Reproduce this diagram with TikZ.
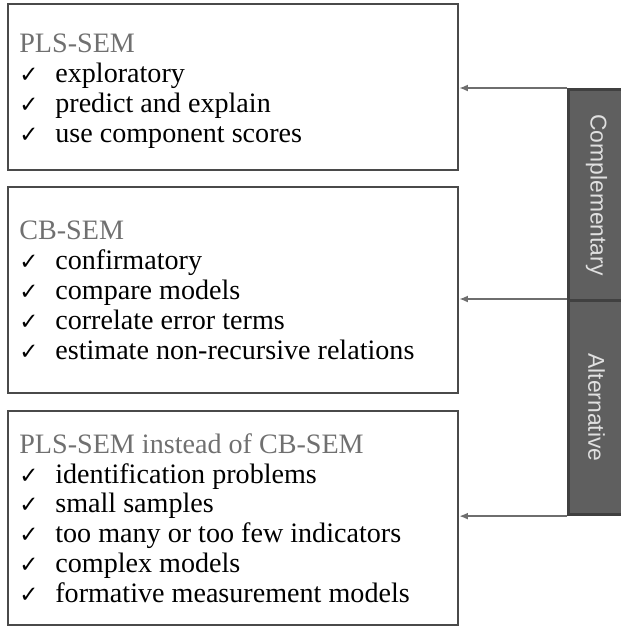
\documentclass[tikz,border=0pt]{standalone}
\usepackage{fontspec}
\setmainfont{Liberation Serif}
\setsansfont{Liberation Sans}
\newfontfamily\symfont{DejaVu Sans}
\usetikzlibrary{arrows.meta}

\definecolor{boxline}{HTML}{4A4A4A}
\definecolor{titlegray}{HTML}{707070}
\definecolor{barfill}{HTML}{5F5F5F}
\definecolor{barline}{HTML}{404040}
\definecolor{arrowgray}{HTML}{6E6E6E}

\newcommand{\tick}{\makebox[0.72cm][l]{{\symfont\fontsize{13}{13}\selectfont ✓}}}

\tikzset{
  listbox/.style={draw=boxline, line width=1.3pt, anchor=north west,
    minimum width=9cm, inner sep=0pt},
  listtext/.style={anchor=north west, align=left, inner sep=0pt,
    font=\fontsize{16}{17}\selectfont},
  sidebar/.style={draw=barline, fill=barfill, line width=1.8pt, anchor=north west,
    minimum width=1.4cm, inner sep=0pt},
  barlabel/.style={rotate=-90, text=white!88!black, font=\sffamily\fontsize{13}{13}\selectfont},
  link/.style={draw=arrowgray, line width=1pt, -{Latex[length=5pt,width=4pt]}}
}

\begin{document}
\begin{tikzpicture}[x=0.02cm,y=-0.02cm]
      \useasboundingbox (0,0) rectangle (621,626);

      % boxes
      \node [listbox, minimum height=3.32cm] (pls) at (7,3) {};
      \node [listbox, minimum height=4.12cm] (cb) at (7,186) {};
      \node [listbox, minimum height=4.28cm] (instead) at (7,410) {};

      % contents
      \node [listtext] (plstext) at (19,34)
        {\textcolor{titlegray}{PLS-SEM}\\
         \tick exploratory\\
         \tick predict and explain\\
         \tick use component scores};
      \node [listtext] (cbtext) at (19,221)
        {\textcolor{titlegray}{CB-SEM}\\
         \tick confirmatory\\
         \tick compare models\\
         \tick correlate error terms\\
         \tick estimate non-recursive relations};
      \node [listtext] (insteadtext) at (19,433)
        {\textcolor{titlegray}{PLS-SEM instead of CB-SEM}\\
         \tick identification problems\\
         \tick small samples\\
         \tick too many or too few indicators\\
         \tick complex models\\
         \tick formative measurement models};

      % side bar
      \node [sidebar, minimum height=4.22cm] (comp) at (567,88) {};
      \node [sidebar, minimum height=4.28cm] (alt) at (567,299) {};
      \node [barlabel] (complabel) at ([xshift=-0.14cm]comp.center) {Complementary};
      \node [barlabel] (altlabel) at ([xshift=-0.14cm]alt.center) {Alternative};

      % arrows
      \draw [link] (comp.north west) -- (comp.north west -| pls.east);
      \draw [link] (alt.north west) -- (alt.north west -| cb.east);
      \draw [link] (alt.south west) -- (alt.south west -| instead.east);

    \end{tikzpicture}
\end{document}
